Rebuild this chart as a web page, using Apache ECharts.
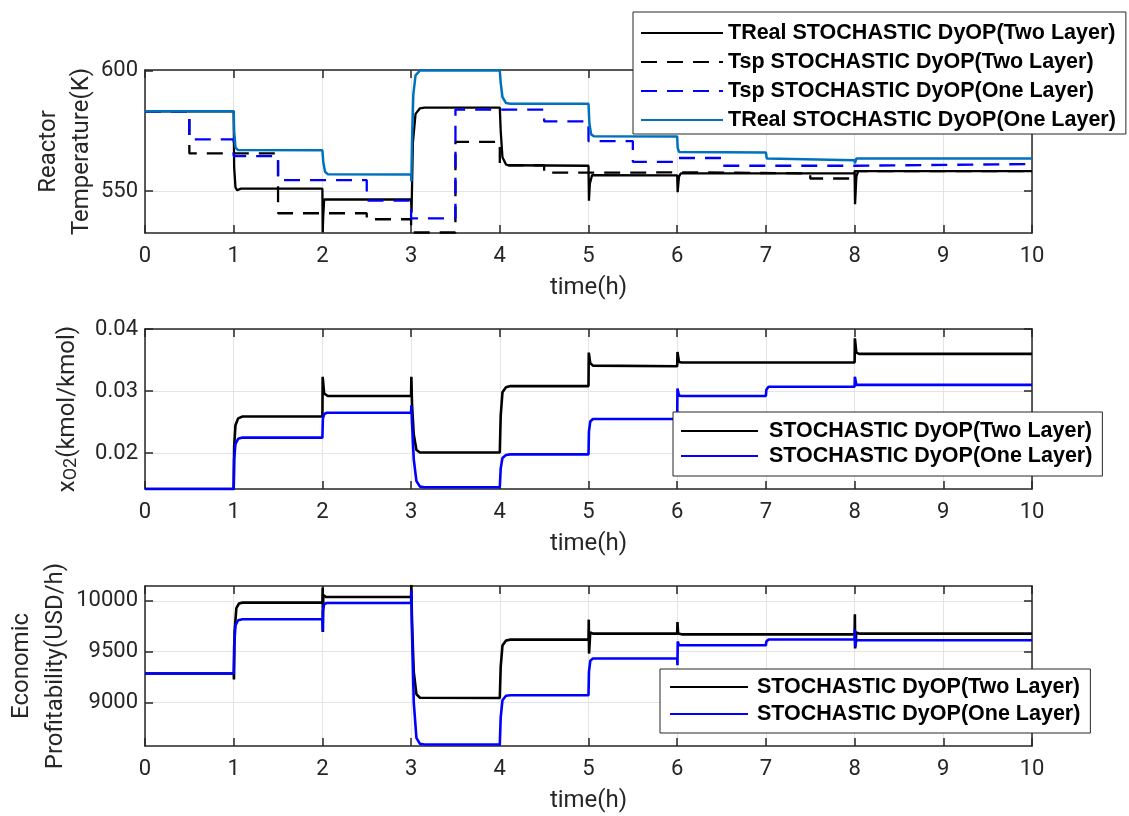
<!DOCTYPE html>
<html>
<head>
<meta charset="utf-8">
<script src="https://cdn.jsdelivr.net/npm/echarts@6/dist/echarts.min.js"></script>
<style>html,body{margin:0;padding:0;background:#fff;}#c{width:1129px;height:816px;}</style>
</head>
<body>
<div id="c"></div>
<script>
// ---- data (time in h, value) ----
const tempTicks = [550, 600];
const xo2Ticks = [0.02, 0.03, 0.04];
const profitTicks = [9000, 9500, 10000];

const tRealTwo = [[0,583.1],[1,583.1],[1.005,560],[1.02,551.5],[1.04,550.3],[1.08,551],[2,551],[2.003,533],[2.01,540],[2.02,546.5],[3,546.5],[3.005,541],[3.02,570],[3.05,582],[3.1,584.3],[3.15,584.6],[4,584.6],[4.01,575],[4.03,564],[4.07,561],[4.1,560.7],[5,560.5],[5.005,546],[5.015,553],[5.04,556.6],[6,556.5],[6.005,549.5],[6.02,556],[6.04,557.3],[8,557.3],[8.005,544.5],[8.02,556],[8.04,558.3],[10,558.3]];
const tSpTwo = [[0,583.1],[0.5,583.1],[0.5,565.6],[1.5,565.6],[1.5,540.8],[2.5,540.8],[2.5,538.3],[3,538.3],[3,532.8],[3.5,532.8],[3.5,570.4],[4,570.4],[4,560.7],[4.5,560.7],[4.5,557.6],[5.5,557.6],[5.5,557.8],[6,557.8],[6,557.3],[7.5,557.3],[7.5,555.2],[8,555.2],[8,558.3],[10,558.3]];
const tSpOne = [[0,583.1],[0.5,583.1],[0.5,571.4],[1,571.4],[1,564.5],[1.5,564.5],[1.5,554.5],[2.5,554.5],[2.5,546],[3,546],[3,538.7],[3.5,538.7],[3.5,583.8],[4.5,583.8],[4.5,578.9],[5,578.9],[5,570.7],[5.5,570.7],[5.5,562.1],[6,562.1],[6,563.7],[6.5,563.7],[6.5,560.5],[8,560.5],[8,561.2],[10,561.2]];
const tRealOne = [[0,583.1],[1,583.1],[1.005,575],[1.02,568],[1.05,567],[2,566.9],[2.01,562],[2.03,558],[2.06,557],[3,556.9],[3.003,554],[3.01,570],[3.025,590],[3.05,598],[3.1,600],[4,600],[4.01,595],[4.03,589],[4.07,586.5],[4.12,586.2],[5,586.2],[5.01,578],[5.03,573.5],[5.06,572.7],[6,572.6],[6.005,568],[6.02,566.2],[7,566],[7.01,563.5],[7.03,562.8],[8,562.8],[8.003,561.5],[8.02,563.5],[10,563.5]];

const xo2Two = [[0,0.0142],[1,0.0142],[1.005,0.021],[1.02,0.0245],[1.05,0.0256],[1.1,0.0259],[2,0.0259],[2.003,0.0323],[2.02,0.0296],[2.06,0.0292],[3,0.0292],[3.003,0.0323],[3.01,0.028],[3.03,0.023],[3.06,0.0205],[3.1,0.0201],[4,0.0201],[4.01,0.026],[4.03,0.0298],[4.07,0.0306],[4.12,0.0308],[5,0.0308],[5.003,0.0362],[5.02,0.0345],[5.05,0.0341],[6,0.0340],[6.003,0.0363],[6.02,0.0347],[6.05,0.0346],[8,0.0346],[8.003,0.0385],[8.02,0.0362],[8.05,0.036],[10,0.036]];
const xo2One = [[0,0.0142],[1,0.0142],[1.005,0.019],[1.02,0.0215],[1.05,0.0223],[1.1,0.0225],[2,0.0225],[2.005,0.0255],[2.02,0.0263],[2.05,0.0265],[3,0.0265],[3.003,0.0277],[3.01,0.025],[3.03,0.019],[3.06,0.0155],[3.1,0.0146],[3.15,0.0145],[4,0.0145],[4.01,0.0175],[4.03,0.0192],[4.07,0.0197],[4.12,0.0198],[5,0.0198],[5.005,0.0235],[5.02,0.0251],[5.05,0.0255],[6,0.0255],[6.003,0.0304],[6.02,0.0293],[6.05,0.0292],[7,0.0292],[7.005,0.0302],[7.03,0.0307],[8,0.0307],[8.003,0.0323],[8.02,0.031],[8.05,0.031],[10,0.031]];

const profitTwo = [[0,9284],[1,9284],[1.003,9225],[1.01,9700],[1.03,9930],[1.06,9975],[1.1,9984],[2,9984],[2.003,10132],[2.006,9694],[2.01,10060],[2.04,10040],[3,10040],[3.003,10160],[3.01,9800],[3.03,9300],[3.06,9080],[3.1,9045],[4,9043],[4.01,9350],[4.03,9560],[4.07,9610],[4.12,9619],[5,9619],[5.003,9816],[5.006,9481],[5.02,9690],[5.05,9678],[6,9678],[6.003,9793],[6.01,9680],[6.05,9671],[8,9671],[8.003,9869],[8.006,9531],[8.02,9690],[8.05,9678],[10,9678]];
const profitOne = [[0,9284],[1,9284],[1.005,9550],[1.02,9760],[1.05,9810],[1.1,9820],[2,9820],[2.003,9700],[2.005,9900],[2.02,9970],[2.05,9980],[3,9980],[3.003,10105],[3.01,9700],[3.03,9000],[3.06,8650],[3.1,8590],[3.15,8584],[4,8584],[4.01,8850],[4.03,9020],[4.07,9065],[4.12,9070],[5,9070],[5.005,9300],[5.02,9410],[5.05,9432],[6,9432],[6.003,9366],[6.006,9600],[6.02,9565],[6.05,9563],[7,9563],[7.005,9600],[7.03,9620],[8,9622],[8.003,9718],[8.006,9546],[8.02,9615],[8.05,9612],[10,9612]];

const legendTop = ['TReal STOCHASTIC DyOP(Two Layer)','Tsp STOCHASTIC DyOP(Two Layer)','Tsp STOCHASTIC DyOP(One Layer)','TReal STOCHASTIC DyOP(One Layer)'];
const legendLow = ['STOCHASTIC DyOP(Two Layer)','STOCHASTIC DyOP(One Layer)'];

// ---- chart ----
const AX = '#262626';
const GRIDC = '#e4e4e4';
const tickFont = {fontFamily:'Roboto', fontSize:22, color:AX};
const grids = [
  {left:145, right:97, top:70, height:163, outerBoundsMode:'none', containLabel:false},
  {left:145, right:97, top:329, height:160, outerBoundsMode:'none', containLabel:false},
  {left:145, right:97, top:586, height:160, outerBoundsMode:'none', containLabel:false}
];
const yRanges = [[532.6, 600.2, tempTicks],[0.01422, 0.04, xo2Ticks],[8569, 10148, profitTicks]];

const xAxes = [], yAxes = [];
grids.forEach((g, i) => {
  xAxes.push({
    type:'value', gridIndex:i, min:0, max:10, interval:1, position:'bottom',
    name:'time(h)', nameLocation:'middle', nameGap:43, nameMoveOverlap:false,
    nameTextStyle:{fontFamily:'Roboto', fontSize:24, color:AX, lineHeight:24},
    axisLine:{show:true, lineStyle:{color:AX, width:1.5}},
    axisTick:{show:true, inside:true, length:8, lineStyle:{color:AX, width:1.5}},
    axisLabel:Object.assign({margin:12}, tickFont),
    splitLine:{show:true, lineStyle:{color:GRIDC, width:1}}
  });
  xAxes.push({
    type:'value', gridIndex:i, min:0, max:10, interval:1, position:'top',
    axisLine:{show:true, onZero:false, lineStyle:{color:AX, width:1.5}},
    axisTick:{show:true, inside:true, length:8, lineStyle:{color:AX, width:1.5}},
    axisLabel:{show:false}, splitLine:{show:false}
  });
  const [mn, mx, tk] = yRanges[i];
  yAxes.push({
    type:'value', gridIndex:i, min:mn, max:mx, position:'left', nameMoveOverlap:false,
    axisLine:{show:true, onZero:false, lineStyle:{color:AX, width:1.5}},
    axisTick:{show:true, inside:true, length:8, customValues:tk, lineStyle:{color:AX, width:1.5}},
    axisLabel:Object.assign({margin:7, customValues:tk, formatter:(v) => String(v)}, tickFont),
    splitLine:{show:true, lineStyle:{color:GRIDC, width:1}}
  });
  yAxes.push({
    type:'value', gridIndex:i, min:mn, max:mx, position:'right',
    axisLine:{show:true, onZero:false, lineStyle:{color:AX, width:1.5}},
    axisTick:{show:true, inside:true, length:8, customValues:tk, lineStyle:{color:AX, width:1.5}},
    axisLabel:{show:false, customValues:tk}, splitLine:{show:false}
  });
});
// y-axis names
const nameStyle = {fontFamily:'Roboto', fontSize:24, color:AX};
yAxes[0].name = 'Reactor\nTemperature(K)';
yAxes[0].nameLocation = 'middle'; yAxes[0].nameGap = 47;
yAxes[0].nameTextStyle = Object.assign({lineHeight:33}, nameStyle);
yAxes[2].name = '{a|x}{b|O2}{a|(kmol/kmol)}';
yAxes[2].nameLocation = 'middle'; yAxes[2].nameGap = 65;
yAxes[2].nameTextStyle = Object.assign({}, nameStyle, {rich:{
  a:{fontFamily:'Roboto', fontSize:24, color:AX, lineHeight:24, verticalAlign:'top'},
  b:{fontFamily:'Roboto', fontSize:18, color:AX, lineHeight:18, verticalAlign:'bottom', padding:[11,0,0,0]}
}});
yAxes[4].name = 'Economic\nProfitability(USD/h)';
yAxes[4].nameLocation = 'middle'; yAxes[4].nameGap = 72;
yAxes[4].nameTextStyle = Object.assign({lineHeight:34}, nameStyle);

function ser(name, data, gi, color, width, dashed) {
  return {
    type:'line', name:name, data:data, xAxisIndex:gi*2, yAxisIndex:gi*2,
    symbol:'none', showSymbol:false, animation:false, clip:true,
    lineStyle:{color:color, width:width, type: dashed ? [16,10] : 'solid'},
    itemStyle:{color:color}
  };
}

const legendText = {fontFamily:'Liberation Sans', fontSize:21.5, fontWeight:'bold', color:'#000', lineHeight:22};
const hiddenSym = {color:'rgba(0,0,0,0)', borderColor:'rgba(0,0,0,0)', borderWidth:0, opacity:0};
const option = {
  backgroundColor:'#fff',
  animation:false,
  grid:grids,
  xAxis:xAxes,
  yAxis:yAxes,
  legend:[
    {data:legendTop, orient:'vertical', left:633, top:12, padding:[10,10,3,7], itemWidth:82, itemHeight:14, itemGap:7,
     itemStyle:hiddenSym,
     textStyle:legendText, backgroundColor:'#fff', borderColor:AX, borderWidth:1, selectedMode:false},
    {data:legendLow, orient:'vertical', left:673, top:412, padding:[8,10,9,7], itemWidth:77, itemHeight:14, itemGap:3,
     itemStyle:hiddenSym,
     textStyle:Object.assign({padding:[0,0,0,6]}, legendText), backgroundColor:'#fff', borderColor:AX, borderWidth:1, selectedMode:false},
    {data:legendLow, orient:'vertical', left:660, top:669, padding:[7,10,8,9], itemWidth:78, itemHeight:14, itemGap:5,
     itemStyle:hiddenSym,
     textStyle:Object.assign({padding:[0,0,0,4]}, legendText), backgroundColor:'#fff', borderColor:AX, borderWidth:1, selectedMode:false}
  ],
  series:[
    ser(legendTop[0], tRealTwo, 0, '#000000', 2.3, false),
    ser(legendTop[1], tSpTwo, 0, '#000000', 2.3, true),
    ser(legendTop[2], tSpOne, 0, '#0000ff', 2.3, true),
    ser(legendTop[3], tRealOne, 0, '#0072bd', 2.5, false),
    ser(legendLow[0], xo2Two, 1, '#000000', 2.6, false),
    ser(legendLow[1], xo2One, 1, '#0000ff', 2.6, false),
    ser(legendLow[0], profitTwo, 2, '#000000', 2.6, false),
    ser(legendLow[1], profitOne, 2, '#0000ff', 2.6, false)
  ]
};
const chart = echarts.init(document.getElementById('c'), null, {renderer:'canvas'});
chart.setOption(option);
</script>
</body>
</html>
